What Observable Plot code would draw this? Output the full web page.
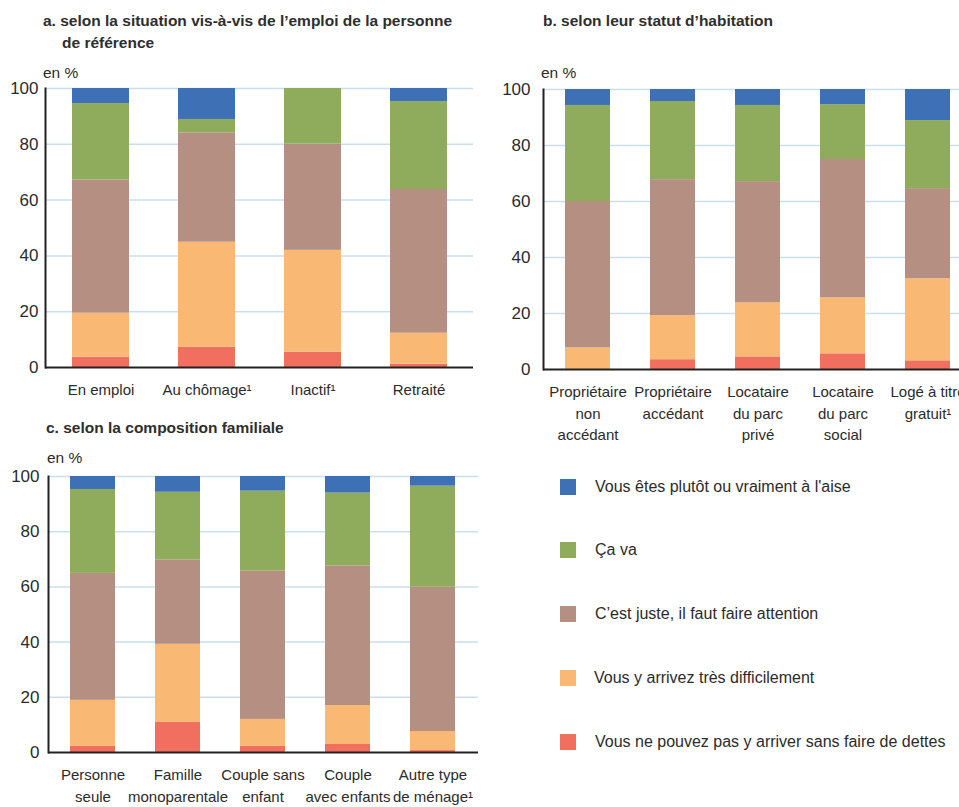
<!DOCTYPE html>
<html>
<head>
<meta charset="utf-8">
<script src="https://cdn.jsdelivr.net/npm/d3@7"></script>
<script src="https://cdn.jsdelivr.net/npm/@observablehq/plot@0.6"></script>
<style>
  html, body { margin: 0; padding: 0; background: #fff; }
  #root { position: relative; width: 959px; height: 807px; overflow: hidden; background: #fff;
          font-family: "Liberation Sans", Arial, sans-serif; color: #2b2b2b; }
  .abs { position: absolute; white-space: nowrap; }
  .title { font-weight: bold; font-size: 15.5px; line-height: 22px; color: #2e2e2e; }
  .unit { font-size: 15.5px; line-height: 20px; color: #2b2b2b; }
  .leg { font-size: 16px; line-height: 22px; color: #2b2b2b; }
  .sw { position: absolute; width: 16px; height: 16px; }
  .panel svg { max-width: none !important; overflow: visible; }
</style>
</head>
<body>
<div id="root"></div>
<script>
// ---- Data ----
const seriesNames = [
  "Vous ne pouvez pas y arriver sans faire de dettes",
  "Vous y arrivez très difficilement",
  "C’est juste, il faut faire attention",
  "Ça va",
  "Vous êtes plutôt ou vraiment à l'aise"
];
const seriesColors = ["#f06f5f", "#f9b974", "#b48f82", "#8fac5c", "#3e70b5"];
const yTicks = [0, 20, 40, 60, 80, 100];

// Panel a
const catsA = ["En emploi", "Au chômage¹", "Inactif¹", "Retraité"];
const detteA  = [3.7, 7.3, 5.5, 1.2];
const diffA   = [15.8, 37.6, 36.5, 11.1];
const justeA  = [47.7, 39.2, 38.1, 51.5];
const cavaA   = [27.4, 4.8, 19.9, 31.5];
const aiseA   = [5.4, 11.1, 0, 4.7];

// Panel b
const catsB = ["Propriétaire\nnon\naccédant", "Propriétaire\naccédant", "Locataire\ndu parc\nprivé", "Locataire\ndu parc\nsocial", "Logé à titre\ngratuit¹"];
const detteB  = [0, 3.5, 4.5, 5.6, 3.1];
const diffB   = [7.7, 15.7, 19.3, 20.0, 29.3];
const justeB  = [52.3, 48.6, 43.3, 49.4, 32.2];
const cavaB   = [34.3, 27.9, 27.2, 19.6, 24.3];
const aiseB   = [5.7, 4.3, 5.7, 5.4, 11.1];

// Panel c
const catsC = ["Personne\nseule", "Famille\nmonoparentale", "Couple sans\nenfant", "Couple\navec enfants", "Autre type\nde ménage¹"];
const detteC  = [2.2, 10.9, 2.2, 2.9, 0.7];
const diffC   = [16.7, 28.3, 9.8, 14.1, 6.9];
const justeC  = [46.0, 30.6, 53.7, 50.6, 52.3];
const cavaC   = [30.4, 24.5, 29.0, 26.4, 36.6];
const aiseC   = [4.7, 5.7, 5.3, 6.0, 3.5];

const titleA1 = "a. selon la situation vis-à-vis de l’emploi de la personne";
const titleA2 = "de référence";
const titleB = "b. selon leur statut d’habitation";
const titleC = "c. selon la composition familiale";
const unitLabel = "en %";

// ---- Build ----
const FONT = '"Liberation Sans", Arial, sans-serif';
const root = document.getElementById("root");

function toLong(cats, arrays) {
  const rows = [];
  cats.forEach((c, i) => {
    arrays.forEach((arr, s) => rows.push({cat: c, series: seriesNames[s], value: arr[i]}));
  });
  return rows;
}

function panel(cats, arrays, o) {
  const data = toLong(cats, arrays);
  const chart = Plot.plot({
    width: o.width, height: o.height,
    marginLeft: o.ml, marginRight: o.mr, marginTop: o.mt, marginBottom: o.mb,
    style: {fontFamily: FONT, fontSize: "15px", color: "#2b2b2b", background: "transparent", overflow: "visible"},
    x: {domain: cats, paddingInner: 0.465, paddingOuter: 0.233, label: null},
    y: {domain: [0, 100], label: null},
    color: {domain: seriesNames, range: seriesColors},
    marks: [
      Plot.gridY([20, 40, 60, 80, 100], {stroke: "#c9dfef", strokeOpacity: 1, strokeWidth: 1.5}),
      Plot.barY(data, {x: "cat", y: "value", fill: "series", order: seriesNames}),
      Plot.axisY({ticks: yTicks, tickSize: 0, tickPadding: o.ytp, label: null, fontSize: 17}),
      Plot.axisX({tickSize: 0, tickPadding: 12, label: null, lineHeight: 1.45, fontSize: 15}),
      Plot.ruleY([0], {stroke: "#222", strokeWidth: 2}),
      Plot.frame({anchor: "left", stroke: "#222", strokeWidth: 2})
    ]
  });
  const d = document.createElement("div");
  d.className = "abs panel";
  d.style.left = o.left + "px";
  d.style.top = o.top + "px";
  d.style.width = o.width + "px";
  d.appendChild(chart);
  root.appendChild(d);
}

function text(str, cls, left, top) {
  const d = document.createElement("div");
  d.className = "abs " + cls;
  d.style.left = left + "px";
  d.style.top = top + "px";
  d.textContent = str;
  root.appendChild(d);
}

panel(catsA, [detteA, diffA, justeA, cavaA, aiseA], {left: 0, top: 0, width: 480, height: 407, ml: 45, mr: 7, mt: 88, mb: 40, ytp: 7});
panel(catsB, [detteB, diffB, justeB, cavaB, aiseB], {left: 480, top: 0, width: 500, height: 449, ml: 63, mr: 7, mt: 89, mb: 80, ytp: 13});
panel(catsC, [detteC, diffC, justeC, cavaC, aiseC], {left: 0, top: 440, width: 480, height: 367, ml: 48, mr: 2, mt: 36, mb: 55, ytp: 9});

text(titleA1, "title", 43, 10);
text(titleA2, "title", 62, 32);
text(titleB, "title", 543, 10);
text(titleC, "title", 46, 417);
text(unitLabel, "unit", 43, 63);
text(unitLabel, "unit", 541, 63);
text(unitLabel, "unit", 47, 448);

const legY = [487, 550, 614, 678, 742];
for (let k = 0; k < 5; k++) {
  const s = 4 - k;
  const sw = document.createElement("div");
  sw.className = "sw";
  sw.style.left = "560px";
  sw.style.top = (legY[k] - 8) + "px";
  sw.style.background = seriesColors[s];
  root.appendChild(sw);
  text(seriesNames[s], "leg", s === 1 ? 594 : 595, legY[k] - 11);
}
</script>
</body>
</html>
